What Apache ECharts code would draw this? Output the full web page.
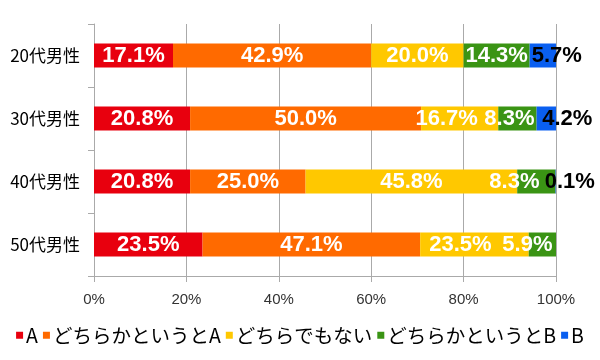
<!DOCTYPE html>
<html><head><meta charset="utf-8">
<script src="https://cdn.jsdelivr.net/npm/echarts@6/dist/echarts.min.js"></script>
<style>html,body{margin:0;padding:0;background:#fff}#c{width:600px;height:360px}</style>
</head><body><div id="c"></div>
<script>
const categories = ['20代男性', '30代男性', '40代男性', '50代男性'];
const seriesNames = ['A', 'どちらかというとA', 'どちらでもない', 'どちらかというとB', 'B'];
const valuesA = [17.1, 20.8, 20.8, 23.5];
const valuesLeanA = [42.9, 50.0, 25.0, 47.1];
const valuesNeutral = [20.0, 16.7, 45.8, 23.5];
const valuesLeanB = [14.3, 8.3, 8.3, 5.9];
const valuesB = [5.7, 4.2, 0.1, 0];
const xTicks = [0, 20, 40, 60, 80, 100];

const colors = ['#e8000e', '#ff6a00', '#ffc800', '#3a9414', '#0a5ff0'];
const allValues = [valuesA, valuesLeanA, valuesNeutral, valuesLeanB, valuesB];
// label nudges (px) to mimic the reference's overlap avoidance
const labelShift = {
  '2-1': -13, '3-1': -8, '4-0': 14, '4-1': 21, '4-2': 14,
  '3-2': -22, '2-3': -14, '3-3': -15
};
const FONT = '"Liberation Sans Narrow", "Liberation Sans", Arial, sans-serif';
const CJK = '"Noto Sans CJK JP", "Noto Sans", sans-serif';

const series = allValues.map((vals, si) => ({
  name: seriesNames[si],
  type: 'bar',
  stack: 'total',
  barWidth: 24,
  itemStyle: { color: colors[si] },
  data: vals.map((v, ci) => ({
    value: v,
    label: { offset: [labelShift[si + '-' + ci] || 0, 0] }
  })),
  label: {
    show: true,
    position: 'inside',
    color: si === 4 ? '#000' : '#fff',
    fontFamily: FONT,
    fontWeight: 'bold',
    fontSize: 22,
    formatter: p => p.value > 0 ? p.value.toFixed(1) + '%' : ''
  }
}));

const chart = echarts.init(document.getElementById('c'), null, { renderer: 'canvas' });
chart.setOption({
  animation: false,
  color: colors,
  grid: { left: 94, right: 44, top: 24, bottom: 84, containLabel: false },
  xAxis: {
    type: 'value', min: 0, max: 100, interval: 20,
    axisLine: { show: true, lineStyle: { color: '#aaa' } },
    axisTick: { show: true, length: 6, lineStyle: { color: '#aaa' } },
    splitLine: { show: true, lineStyle: { color: '#aaa' } },
    axisLabel: { color: '#333', fontSize: 15, fontFamily: '"Liberation Sans", Arial, sans-serif', margin: 16,
      formatter: v => xTicks.includes(v) ? v + '%' : '' }
  },
  yAxis: {
    type: 'category', data: categories, inverse: true,
    axisLine: { show: true, lineStyle: { color: '#aaa' } },
    axisTick: { show: true, length: 6, lineStyle: { color: '#aaa' } },
    axisLabel: { color: '#000', fontSize: 17, fontFamily: CJK, margin: 14 }
  },
  legend: {
    bottom: 10, left: 'center',
    itemWidth: 7, itemHeight: 7, itemGap: 5,
    icon: 'rect',
    textStyle: { color: '#000', fontSize: 19.5, fontFamily: CJK, padding: [8, 0, 0, -2] },
    data: seriesNames
  },
  series: series
});
</script></body></html>
